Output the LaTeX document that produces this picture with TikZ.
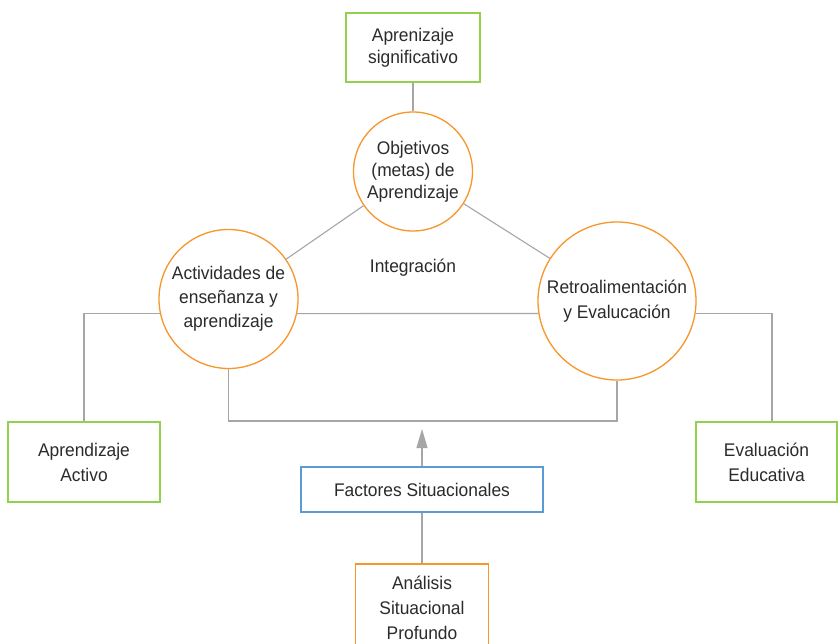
\documentclass[tikz,border=0pt]{standalone}
\usepackage{fontspec}
\setmainfont[FakeStretch=0.95]{Liberation Sans}
\usetikzlibrary{arrows.meta}
\definecolor{lgray}{HTML}{A6A6A6}
\definecolor{orng}{HTML}{F7962B}
\definecolor{grn}{HTML}{92D050}
\definecolor{blu}{HTML}{5B9BD5}
\definecolor{txtc}{HTML}{2B2B2B}
\tikzset{
  conn/.style={draw=lgray, line width=1.1pt},
  lbl/.style={text=txtc, align=center, font=\fontsize{18.3}{25}\selectfont, inner sep=0pt},
  greenbox/.style={lbl, draw=grn, line width=1.3pt, rectangle},
  orangebox/.style={lbl, draw=orng, line width=1.3pt, rectangle},
  bluebox/.style={lbl, draw=blu, line width=1.3pt, rectangle},
  circ/.style={draw=orng, line width=1.3pt, circle, inner sep=0pt, fill=white},
}
\begin{document}
\begin{tikzpicture}[x=1pt, y=-1pt]
\clip (0,0) rectangle (838,644);
\fill[white] (0,0) rectangle (838,644);

% boxes
\node[greenbox, minimum width=134pt, minimum height=69pt, font=\fontsize{18.3}{22}\selectfont] (sig) at (413,47.5) {Aprenizaje\\significativo};
\node[greenbox, minimum width=152pt, minimum height=80pt] (aa) at (84,462) {Aprendizaje\\Activo};
\node[greenbox, minimum width=141pt, minimum height=80pt] (ee) at (766.5,462) {Evaluación\\Educativa};
\node[bluebox, minimum width=242pt, minimum height=45pt] (fac) at (422,489.5) {Factores Situacionales};
\node[orangebox, minimum width=133pt, minimum height=88pt] (ana) at (422,608) {Análisis\\Situacional\\Profundo};

% circles
\node[circ, minimum size=119pt] (obj) at (413,171.5) {};
\node[circ, minimum size=139pt] (act) at (228.5,299) {};
\node[circ, minimum size=158pt] (ret) at (617,301) {};

% connectors
\draw[conn] (sig) -- (obj);
\draw[conn] (obj) -- (act);
\draw[conn] (obj) -- (ret);
\draw[conn] (act.-12.5) -- (ret.189.5);
\draw[conn] (act.192.5) -| (aa.north);
\draw[conn] (ret.-9.5) -| ([xshift=5.5pt]ee.north);
\coordinate (junc) at (422,421);
\coordinate (tip) at (422,429);
\draw[conn] (act.south) |- (junc) -| (ret.south);
\draw[conn, -{Triangle[length=19pt,width=11pt]}, lgray] (fac.north) -- (tip);
\draw[conn] (fac.south) -- (ana.north);

% circle texts
\node[lbl, font=\fontsize{18.3}{22}\selectfont] (objt) at (obj) {Objetivos\\(metas) de\\Aprendizaje};
\node[lbl, font=\fontsize{18.3}{24}\selectfont] (actt) at (act) {Actividades de\\enseñanza y\\aprendizaje};
\node[lbl] (rett) at (ret) {Retroalimentación\\y Evalucación};

\node[lbl, anchor=base] (int) at (413,273) {Integración};
\end{tikzpicture}
\end{document}
